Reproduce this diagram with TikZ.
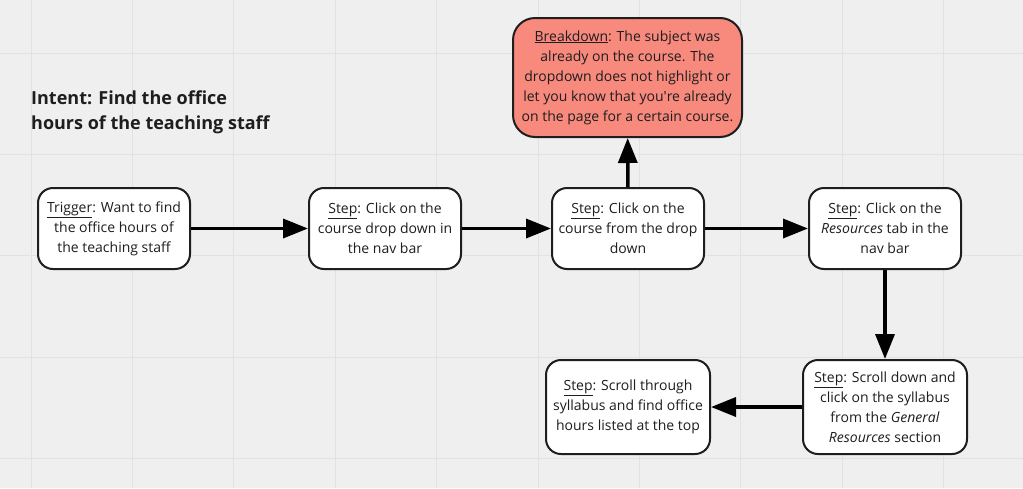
\documentclass[tikz,border=0pt]{standalone}
\usepackage{fontspec}
\setmainfont{Open Sans}
\usetikzlibrary{arrows.meta}
\definecolor{bg}{RGB}{239,239,239}
\definecolor{gridc}{RGB}{226,226,226}
\definecolor{ink}{RGB}{30,30,30}
\definecolor{salmon}{RGB}{248,137,125}
\tikzset{
  box/.style={draw=ink, line width=2pt, fill=white, rounded corners=15pt,
    align=center, text=ink, inner sep=0pt, font=\fontsize{14}{20}\selectfont},
  flow/.style={draw=black, line width=3.5pt, -{Triangle[length=25pt,width=19pt]}},
}
\newcommand{\lbl}[1]{\underline{#1}}
\begin{document}
\begin{tikzpicture}[x=1pt,y=-1pt]
\fill[bg] (0,0) rectangle (1023,488);
\useasboundingbox (0,0) rectangle (1023,488);
\foreach \k in {0,...,9} {
  \draw[gridc, line width=1pt] ({31+101.4*\k},0) -- ({31+101.4*\k},488);
}
\foreach \k in {0,...,4} {
  \draw[gridc, line width=1pt] (0,{53+101.4*\k}) -- (1023,{53+101.4*\k});
}
\node[anchor=north west, align=left, inner sep=0pt, text=ink,
  font=\fontsize{18}{25}\selectfont\bfseries] (title) at (31,91)
  {Intent: Find the office\\hours of the teaching staff};

\node[box, minimum width=152pt, minimum height=81pt] (trig) at (114,228.5)
  {\lbl{Trigger}: Want to find\\the office hours of\\the teaching staff};
\node[box, minimum width=152pt, minimum height=81pt] (s1) at (385,228.5)
  {\lbl{Step}: Click on the\\course drop down in\\the nav bar};
\node[box, minimum width=152pt, minimum height=81pt] (s2) at (628,228.5)
  {\lbl{Step}: Click on the\\course from the drop\\down};
\node[box, minimum width=152pt, minimum height=81pt] (s3) at (885,228.5)
  {\lbl{Step}: Click on the\\\textit{Resources} tab in the\\nav bar};
\node[box, fill=salmon, rounded corners=22pt, minimum width=229pt, minimum height=119pt] (bd) at (627.5,77.5)
  {\lbl{Breakdown}: The subject was\\already on the course. The\\dropdown does not highlight or\\let you know that you\textquotesingle re already\\on the page for a certain course.};
\node[box, minimum width=164pt, minimum height=94pt] (s4) at (885,407)
  {\lbl{Step}: Scroll down and\\click on the syllabus\\from the \textit{General}\\\textit{Resources} section};
\node[box, minimum width=164pt, minimum height=94pt] (s5) at (628,407)
  {\lbl{Step}: Scroll through\\syllabus and find office\\hours listed at the top};

\draw[flow] (trig) -- (s1);
\draw[flow] (s1) -- (s2);
\draw[flow] (s2) -- (s3);
\draw[flow] (s2) -- (bd);
\draw[flow] (s3) -- (s4);
\draw[flow] (s4) -- (s5);
\end{tikzpicture}
\end{document}
